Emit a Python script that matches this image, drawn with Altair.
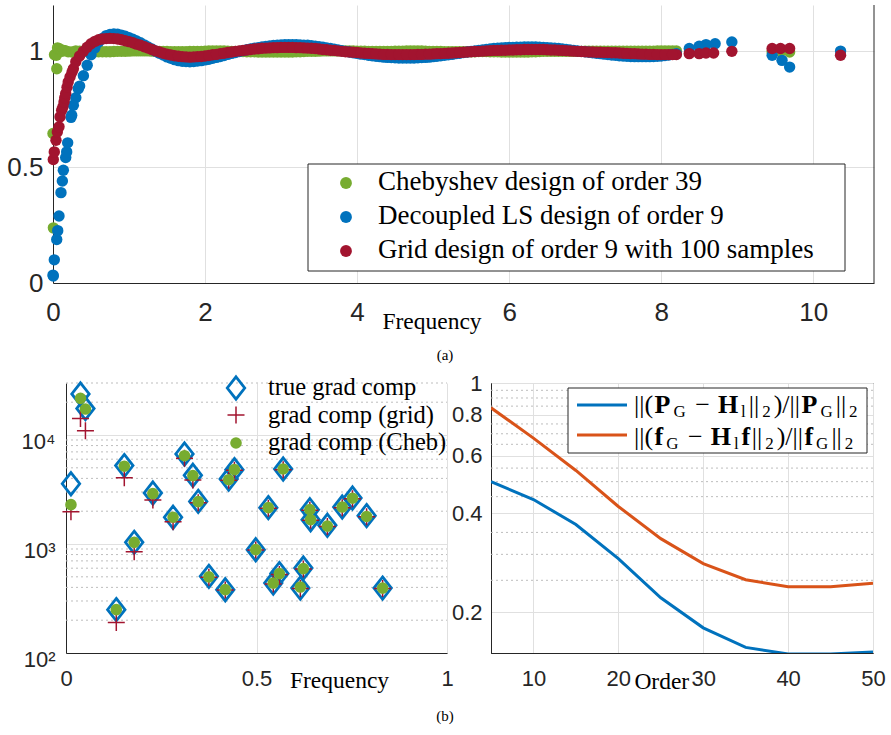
import altair as alt
import pandas as pd

# ---------------- panel (a) data ----------------
LAB_CHEB = "Chebyshev design of order 39"
LAB_LS = "Decoupled LS design of order 9"
LAB_GRID = "Grid design of order 9 with 100 samples"

dense_f = [0.3, 0.4, 0.5, 0.6, 0.7, 0.8, 0.9, 1.0, 1.1, 1.2,
           1.3, 1.4, 1.5, 1.6, 1.7, 1.8, 1.9, 2.0, 2.1, 2.2,
           2.3, 2.4, 2.5, 2.6, 2.7, 2.8, 2.9, 3.0, 3.1, 3.2,
           3.3, 3.4, 3.5, 3.6, 3.7, 3.8, 3.9, 4.0, 4.1, 4.2,
           4.3, 4.4, 4.5, 4.6, 4.7, 4.8, 4.9, 5.0, 5.1, 5.2,
           5.3, 5.4, 5.5, 5.6, 5.7, 5.8, 5.9, 6.0, 6.1, 6.2,
           6.3, 6.4, 6.5, 6.6, 6.7, 6.8, 6.9, 7.0, 7.1, 7.2,
           7.3, 7.4, 7.5, 7.6, 7.7, 7.8, 7.9, 8.0, 8.1, 8.2]
half_f = [0.35, 0.45, 0.55, 0.65, 0.75, 0.85, 0.95, 1.05, 1.15,
          1.25, 1.35, 1.45, 1.55, 1.65, 1.75, 1.85, 1.95, 2.05, 2.15,
          2.25, 2.35, 2.45, 2.55, 2.65, 2.75, 2.85, 2.95, 3.05, 3.15,
          3.25, 3.35, 3.45, 3.55, 3.65, 3.75, 3.85, 3.95, 4.05, 4.15,
          4.25, 4.35, 4.45, 4.55, 4.65, 4.75, 4.85, 4.95, 5.05, 5.15,
          5.25, 5.35, 5.45, 5.55, 5.65, 5.75, 5.85, 5.95, 6.05, 6.15,
          6.25, 6.35, 6.45, 6.55, 6.65, 6.75, 6.85, 6.95, 7.05, 7.15,
          7.25, 7.35, 7.45, 7.55, 7.65, 7.75, 7.85, 7.95, 8.05, 8.15]

cheb_dense = [1.002, 1.001, 0.999, 0.998, 0.998, 0.999, 1.0, 1.001, 1.002, 1.002,
              1.001, 1.0, 0.999, 0.998, 0.998, 0.999, 1.0, 1.001, 1.002, 1.002,
              1.001, 1.0, 0.999, 0.998, 0.997, 0.997, 0.997, 0.997, 0.997, 0.998,
              0.999, 1.0, 1.001, 1.002, 1.002, 1.002, 1.002, 1.001, 1.001, 1.0,
              1.0, 1.0, 1.001, 1.001, 1.002, 1.002, 1.001, 1.0, 0.999, 0.998,
              0.998, 0.998, 0.998, 0.999, 0.999, 0.998, 0.997, 0.997, 0.997, 0.997,
              0.998, 0.999, 1.0, 1.0, 1.0, 1.0, 1.0, 1.001, 1.001, 1.001,
              1.001, 1.001, 1.001, 1.001, 1.001, 1.001, 1.001, 1.002, 1.002, 1.002]
cheb_half = [1.001, 1.0, 0.998, 0.998, 0.998, 1.0, 1.0, 1.002, 1.002,
             1.002, 1.0, 1.0, 0.998, 0.998, 0.998, 1.0, 1.0, 1.002, 1.002,
             1.002, 1.0, 1.0, 0.998, 0.998, 0.997, 0.997, 0.997, 0.997, 0.997,
             0.998, 1.0, 1.0, 1.002, 1.002, 1.002, 1.002, 1.002, 1.001, 1.0,
             1.0, 1.0, 1.0, 1.001, 1.002, 1.002, 1.002, 1.0, 1.0, 0.998,
             0.998, 0.998, 0.998, 0.998, 0.999, 0.998, 0.998, 0.997, 0.997, 0.997,
             0.997, 0.998, 1.0, 1.0, 1.0, 1.0, 1.0, 1.0, 1.001, 1.001,
             1.001, 1.001, 1.001, 1.001, 1.001, 1.001, 1.001, 1.002, 1.002, 1.002]
ls_dense = [0.80, 0.895, 0.985, 1.04, 1.068, 1.075, 1.07, 1.059, 1.045, 1.028,
            1.01, 0.992, 0.976, 0.964, 0.957, 0.955, 0.958, 0.963, 0.97, 0.978,
            0.987, 0.995, 1.003, 1.01, 1.016, 1.021, 1.025, 1.028, 1.029, 1.029,
            1.027, 1.024, 1.02, 1.015, 1.009, 1.003, 0.997, 0.991, 0.986, 0.981,
            0.977, 0.974, 0.972, 0.971, 0.971, 0.972, 0.974, 0.977, 0.981, 0.985,
            0.99, 0.995, 1.0, 1.004, 1.008, 1.012, 1.015, 1.017, 1.018, 1.019,
            1.019, 1.018, 1.016, 1.013, 1.01, 1.006, 1.002, 0.998, 0.994, 0.99,
            0.986, 0.983, 0.98, 0.978, 0.977, 0.977, 0.978, 0.98, 0.984, 0.99]
ls_half = [0.85, 0.94, 1.015, 1.056, 1.073, 1.074, 1.065, 1.052, 1.037,
           1.019, 1.001, 0.984, 0.97, 0.96, 0.956, 0.956, 0.96, 0.966, 0.974,
           0.982, 0.991, 0.999, 1.007, 1.013, 1.019, 1.023, 1.027, 1.029, 1.029,
           1.028, 1.026, 1.022, 1.018, 1.012, 1.006, 1.0, 0.994, 0.988, 0.983,
           0.979, 0.975, 0.973, 0.971, 0.971, 0.971, 0.973, 0.975, 0.979, 0.983,
           0.987, 0.992, 0.997, 1.002, 1.006, 1.01, 1.013, 1.016, 1.017, 1.018,
           1.019, 1.019, 1.017, 1.015, 1.012, 1.008, 1.004, 1.0, 0.996, 0.992,
           0.988, 0.984, 0.981, 0.979, 0.977, 0.977, 0.977, 0.979, 0.982, 0.987]
grid_dense = [0.955, 1.0, 1.033, 1.05, 1.055, 1.055, 1.05, 1.042, 1.031, 1.02,
              1.008, 0.997, 0.988, 0.981, 0.977, 0.975, 0.977, 0.98, 0.985, 0.99,
              0.995, 1.0, 1.004, 1.008, 1.011, 1.014, 1.016, 1.017, 1.017, 1.016,
              1.015, 1.013, 1.01, 1.007, 1.004, 1.0, 0.997, 0.995, 0.992, 0.99,
              0.988, 0.987, 0.986, 0.986, 0.986, 0.987, 0.988, 0.989, 0.99, 0.992,
              0.994, 0.996, 0.998, 1.0, 1.002, 1.004, 1.005, 1.006, 1.007, 1.008,
              1.008, 1.008, 1.007, 1.006, 1.004, 1.002, 1.0, 0.998, 0.997, 0.996,
              0.995, 0.994, 0.992, 0.99, 0.989, 0.988, 0.987, 0.986, 0.986, 0.986]
grid_half = [0.98, 1.018, 1.043, 1.053, 1.056, 1.053, 1.046, 1.037, 1.026,
             1.014, 1.002, 0.992, 0.984, 0.979, 0.976, 0.976, 0.978, 0.982, 0.987,
             0.992, 0.997, 1.002, 1.006, 1.01, 1.013, 1.015, 1.016, 1.017, 1.017,
             1.016, 1.014, 1.012, 1.008, 1.005, 1.002, 0.998, 0.996, 0.993, 0.991,
             0.989, 0.987, 0.986, 0.986, 0.986, 0.986, 0.987, 0.988, 0.99, 0.991,
             0.993, 0.995, 0.997, 0.999, 1.001, 1.003, 1.004, 1.005, 1.006, 1.007,
             1.008, 1.008, 1.008, 1.006, 1.005, 1.003, 1.001, 0.999, 0.997, 0.996,
             0.995, 0.994, 0.993, 0.991, 0.99, 0.988, 0.987, 0.986, 0.986, 0.986]

cheb_lo_f = [0.0, 0.005, 0.02, 0.045, 0.05, 0.06, 0.07, 0.09, 0.12, 0.14, 0.16, 0.2, 0.25]
cheb_lo_v = [0.645, 0.238, 0.985, 0.983, 0.925, 1.015, 1.01, 1.01, 1.0, 1.004, 1.003, 0.998, 0.997]
cheb_hi_f = [9.46, 9.57, 9.69]
cheb_hi_v = [0.998, 0.998, 0.997]

ls_lo_f = [0.0, 0.004, 0.017, 0.049, 0.062, 0.079, 0.105, 0.123, 0.136, 0.167, 0.18, 0.193, 0.237, 0.246, 0.268, 0.333]
ls_lo_v = [0.034, 0.03, 0.1, 0.188, 0.226, 0.289, 0.39, 0.44, 0.487, 0.542, 0.566, 0.605, 0.715, 0.724, 0.767, 0.839]
ls_hi_f = [8.37, 8.5, 8.59, 8.71, 8.93, 9.46, 9.59, 9.69, 10.36]
ls_hi_v = [1.012, 1.022, 1.029, 1.033, 1.04, 0.983, 0.961, 0.932, 1.001]

grid_lo_f = [0.004, 0.017, 0.039, 0.057, 0.079, 0.092, 0.114, 0.13, 0.145, 0.155, 0.167, 0.185, 0.2, 0.224, 0.25, 0.268]
grid_lo_v = [0.533, 0.566, 0.616, 0.652, 0.674, 0.717, 0.746, 0.76, 0.781, 0.80, 0.818, 0.845, 0.868, 0.889, 0.91, 0.925]
grid_hi_f = [8.37, 8.5, 8.59, 8.69, 8.93, 9.46, 9.57, 9.69, 10.36]
grid_hi_v = [0.99, 0.99, 0.993, 0.993, 1.0, 1.012, 1.012, 1.012, 0.983]

# ---------------- panel (b) left data ----------------
grad_f = [0.013, 0.038, 0.051, 0.132, 0.153, 0.179, 0.228, 0.281, 0.311, 0.333,
          0.347, 0.375, 0.418, 0.427, 0.442, 0.498, 0.531, 0.544, 0.560, 0.570,
          0.615, 0.623, 0.640, 0.642, 0.686, 0.725, 0.752, 0.789, 0.831]
grad_true = [3570, 23800, 17500, 250, 5240, 1035, 2940, 1760, 6700, 4270,
             2460, 505, 381, 3945, 4810, 887, 2155, 438, 535, 4875,
             394, 603, 2065, 1670, 1484, 2183, 2642, 1820, 394]
grad_grid = [1977, 14200, 10940, 190, 4055, 849, 2535, 1603, 6110, 3870,
             2393, 495, 378, 3850, 4750, 880, 2130, 430, 525, 4800,
             390, 590, 2040, 1650, 1450, 2150, 2600, 1780, 390]
grad_cheb = [2296, 21700, 17300, 250, 5170, 1035, 2900, 1760, 6460, 4240,
             2450, 500, 381, 3890, 4810, 887, 2155, 438, 535, 4875,
             403, 595, 2065, 1670, 1460, 2183, 2630, 1790, 394]
bl_minor = [200, 300, 400, 500, 600, 700, 800, 900,
            2000, 3000, 4000, 5000, 6000, 7000, 8000, 9000, 20000, 30000]

# ---------------- panel (b) right data ----------------
orders = [5, 10, 15, 20, 25, 30, 35, 40, 45, 50]
err_P = [0.50, 0.441, 0.37, 0.291, 0.221, 0.179, 0.156, 0.149, 0.149, 0.151]
err_f = [0.84, 0.679, 0.541, 0.42, 0.335, 0.281, 0.251, 0.239, 0.239, 0.245]
br_minor = [0.25, 0.3, 0.35, 0.45, 0.5, 0.55, 0.65, 0.7, 0.75, 0.85, 0.9, 0.95]

# ---------------- styles ----------------
SANS = "Liberation Sans"
SERIF = "Liberation Serif"
AX = "#262626"
GRIDC = "#e0e0e0"
MINORC = "#bdbdbd"
GREEN = "#77AC30"
BLUE = "#0072BD"
RED = "#A2142F"
ORANGE = "#D95319"
DIAMOND = "M0,-1L0.78,0L0,1L-0.78,0Z"
PLUS = "M-1,0L1,0M0,-1L0,1"

one = pd.DataFrame({"k": [0]})


def ax(fs, pad, **kw):
    return alt.Axis(labelFont=SANS, labelFontSize=fs, labelColor=AX, labelPadding=pad,
                    ticks=False, tickSize=0, domainColor=AX, domainWidth=1,
                    gridColor=GRIDC, gridWidth=1, labelFlush=False, labelOverlap=False,
                    titleFont=SERIF, titleFontWeight="normal", titleColor="black", **kw)


def txt(x, y, s, fs, weight="normal", align="left", baseline="alphabetic"):
    return alt.Chart(one).mark_text(text=s, font=SERIF, fontSize=fs, fontWeight=weight,
                                    align=align, baseline=baseline, color="black").encode(
        x=alt.value(x), y=alt.value(y))


def box(x1, x2, y1, y2):
    return alt.Chart(one).mark_rect(fill="white", stroke=AX, strokeWidth=1).encode(
        x=alt.value(x1), x2=alt.value(x2), y=alt.value(y1), y2=alt.value(y2))


# ---------------- panel (a) ----------------
def series(label, fs, vs):
    return pd.DataFrame({"f": fs, "v": vs, "series": label})


df_a = pd.concat([
    series(LAB_CHEB, cheb_lo_f + dense_f + half_f + cheb_hi_f,
           cheb_lo_v + cheb_dense + cheb_half + cheb_hi_v),
    series(LAB_LS, ls_lo_f + dense_f + half_f + ls_hi_f,
           ls_lo_v + ls_dense + ls_half + ls_hi_v),
    series(LAB_GRID, grid_lo_f + dense_f + half_f + grid_hi_f,
           grid_lo_v + grid_dense + grid_half + grid_hi_v),
], ignore_index=True)

WA, HA = 821, 278
pts_a = alt.Chart(df_a).mark_circle(size=130, opacity=1).encode(
    x=alt.X("f:Q", scale=alt.Scale(domain=[0, 10.8], nice=False, zero=False),
            axis=ax(26, 16, values=[0, 2, 4, 6, 8, 10], format="d", title="Frequency",
                    titleFontSize=23.5, titleX=378.5, titleY=45.5, titleAlign="center",
                    titleBaseline="alphabetic")),
    y=alt.Y("v:Q", scale=alt.Scale(domain=[0, 1.2], nice=False),
            axis=ax(26, 10, values=[0, 0.5, 1], format="~g", title=None)),
    color=alt.Color("series:N", scale=alt.Scale(domain=[LAB_CHEB, LAB_LS, LAB_GRID],
                                                range=[GREEN, BLUE, RED]), legend=None),
)
right_a = alt.Chart(one).mark_rule(color=AX, strokeWidth=1).encode(
    x=alt.value(WA), y=alt.value(0), y2=alt.value(HA))
leg_a = [box(255, 792, 159, 266)]
for i, (lab, col) in enumerate([(LAB_CHEB, GREEN), (LAB_LS, BLUE), (LAB_GRID, RED)]):
    leg_a.append(alt.Chart(one).mark_circle(size=140, color=col, opacity=1).encode(
        x=alt.value(293), y=alt.value(178 + 34 * i)))
    leg_a.append(txt(325, 185 + 34 * i, lab, 27))
cap_a = txt(392, 350, "(a)", 15, align="center", baseline="middle")

top = alt.layer(pts_a, right_a, *leg_a, cap_a).properties(
    width=WA, height=HA, view=alt.ViewBackground(stroke="transparent", strokeWidth=0))

# ---------------- panel (b) left ----------------
df_bl = pd.DataFrame({"f": grad_f, "t": grad_true, "g": grad_grid, "c": grad_cheb})
WL, HL = 394, 270
xbl = alt.X("f:Q", scale=alt.Scale(domain=[0, 1], range=[13, WL], nice=False, zero=False),
            axis=ax(22, 15, values=[0, 0.5, 1], format="~g", title="Frequency",
                    titleFontSize=23.5, titleX=286, titleY=34.3, titleAlign="center",
                    titleBaseline="alphabetic"))
sbl = alt.Scale(type="log", domain=[100, 30000], nice=False)
labexp = "datum.value == 100 ? '10\u00b2' : datum.value == 1000 ? '10\u00b3' : '10\u2074'"


def ybl(field):
    return alt.Y(field, scale=sbl,
                 axis=ax(22, 11, values=[100, 1000, 10000], labelExpr=labexp,
                         offset=-13, labelOffset=6, title=None))


minor_bl = alt.Chart(pd.DataFrame({"m": bl_minor})).mark_rule(
    color=MINORC, strokeDash=[2, 3], strokeWidth=1).encode(
    x=alt.value(13), x2=alt.value(WL), y=ybl("m:Q"))
dia = alt.Chart(df_bl).mark_point(shape=DIAMOND, size=500, filled=False, strokeWidth=2.8,
                                  color=BLUE, opacity=1).encode(x=xbl, y=ybl("t:Q"))
plus = alt.Chart(df_bl).mark_point(shape=PLUS, size=289, filled=False, strokeWidth=1.5,
                                   color=RED, opacity=1).encode(x=xbl, y=ybl("g:Q"))
dots = alt.Chart(df_bl).mark_circle(size=135, color=GREEN, opacity=1).encode(
    x=xbl, y=ybl("c:Q"))
leg_bl = [
    alt.Chart(one).mark_point(shape=DIAMOND, size=500, filled=False, strokeWidth=2.8,
                              color=BLUE, opacity=1).encode(x=alt.value(183), y=alt.value(5)),
    alt.Chart(one).mark_point(shape=PLUS, size=289, filled=False, strokeWidth=1.5,
                              color=RED, opacity=1).encode(x=alt.value(183), y=alt.value(32)),
    alt.Chart(one).mark_circle(size=135, color=GREEN, opacity=1).encode(
        x=alt.value(183), y=alt.value(60)),
    txt(215, 12, "true grad comp", 24.5),
    txt(215, 40, "grad comp (grid)", 24.5),
    txt(215, 67, "grad comp (Cheb)", 24.5),
]
cap_b = txt(392, 333, "(b)", 15, align="center", baseline="middle")
bl = alt.layer(minor_bl, dia, plus, dots, *leg_bl, cap_b).properties(
    width=WL, height=HL, view=alt.ViewBackground(stroke="transparent", strokeWidth=0))

# ---------------- panel (b) right ----------------
df_br = pd.DataFrame({"order": orders, "eP": err_P, "ef": err_f})
WR, HR = 382, 270
xbr = alt.X("order:Q", scale=alt.Scale(domain=[5, 50], nice=False, zero=False),
            axis=ax(22, 15, values=[10, 20, 30, 40, 50], format="d", title="Order",
                    titleFontSize=23.5, titleX=170.3, titleY=35, titleAlign="center",
                    titleBaseline="alphabetic"))
sbr = alt.Scale(type="log", domain=[0.15, 1], nice=False)


def ybr(field):
    return alt.Y(field, scale=sbr,
                 axis=ax(22, 9, values=[0.2, 0.4, 0.6, 0.8, 1], format="~g", title=None))


minor_br = alt.Chart(pd.DataFrame({"m": br_minor})).mark_rule(
    color=MINORC, strokeDash=[2, 3], strokeWidth=1).encode(
    x=alt.value(0), x2=alt.value(WR), y=ybr("m:Q"))
line_P = alt.Chart(df_br).mark_line(strokeWidth=3, clip=True, color=BLUE).encode(
    x=xbr, y=ybr("eP:Q"))
line_f = alt.Chart(df_br).mark_line(strokeWidth=3, clip=True, color=ORANGE).encode(
    x=xbr, y=ybr("ef:Q"))

# legend with math-like labels built from text pieces
MAIN, SUB, SHIFT, GAP, KERN, SUBKERN = 26, 17, 4, 0.25, 1.5, 1.5
MET = {"|": 0.2, "(": 0.333, ")": 0.333, "/": 0.278, "\u2212": 0.564, "2": 0.5,
       "G": 0.722, "l": 0.278}
METB = {"P": 0.611, "H": 0.778, "f": 0.333}


def pieces(x0, y0, segs):
    out = []
    x = x0
    for s, kind in segs:
        if kind == "op":
            x += GAP * MAIN
        if kind == "s":
            x += SUBKERN
        size = SUB if kind == "s" else MAIN
        weight = "bold" if kind == "b" else "normal"
        dy = SHIFT if kind == "s" else 0
        out.append(txt(round(x, 1), y0 + dy, s, size, weight=weight))
        table = METB if kind == "b" else MET
        x += sum(table[c] for c in s) * size + KERN
        if kind == "s":
            x += SUBKERN
        if kind == "op":
            x += GAP * MAIN
    return out


lab1 = [("||(", "r"), ("P", "b"), ("G", "s"), ("\u2212", "op"), ("H", "b"), ("l", "s"),
        ("||", "r"), ("2", "s"), (")/||", "r"), ("P", "b"), ("G", "s"), ("||", "r"), ("2", "s")]
lab2 = [("||(", "r"), ("f", "b"), ("G", "s"), ("\u2212", "op"), ("H", "b"), ("l", "s"),
        ("f", "b"), ("||", "r"), ("2", "s"), (")/||", "r"), ("f", "b"), ("G", "s"),
        ("||", "r"), ("2", "s")]

leg_br = [box(77, 376, 5, 70)]
for i, col in enumerate([BLUE, ORANGE]):
    leg_br.append(alt.Chart(one).mark_rule(color=col, strokeWidth=3).encode(
        x=alt.value(86), x2=alt.value(136), y=alt.value(22 + 30 * i)))
leg_br += pieces(143, 30, lab1)
leg_br += pieces(143, 62, lab2)

br = alt.layer(minor_br, line_P, line_f, *leg_br).properties(
    width=WR, height=HR, view=alt.ViewBackground(stroke=AX, strokeWidth=1))

# ---------------- assemble ----------------
row = alt.hconcat(bl, br, spacing=44, bounds="flush")
chart = alt.vconcat(top, row, spacing=100, bounds="flush").properties(
    autosize=alt.AutoSizeParams(type="none"),
    padding={"left": 53, "top": 5, "right": 838, "bottom": 730},
    background="white",
).configure_view(strokeWidth=0)

chart.save("out.html", embed_options={"renderer": "svg", "actions": False})
